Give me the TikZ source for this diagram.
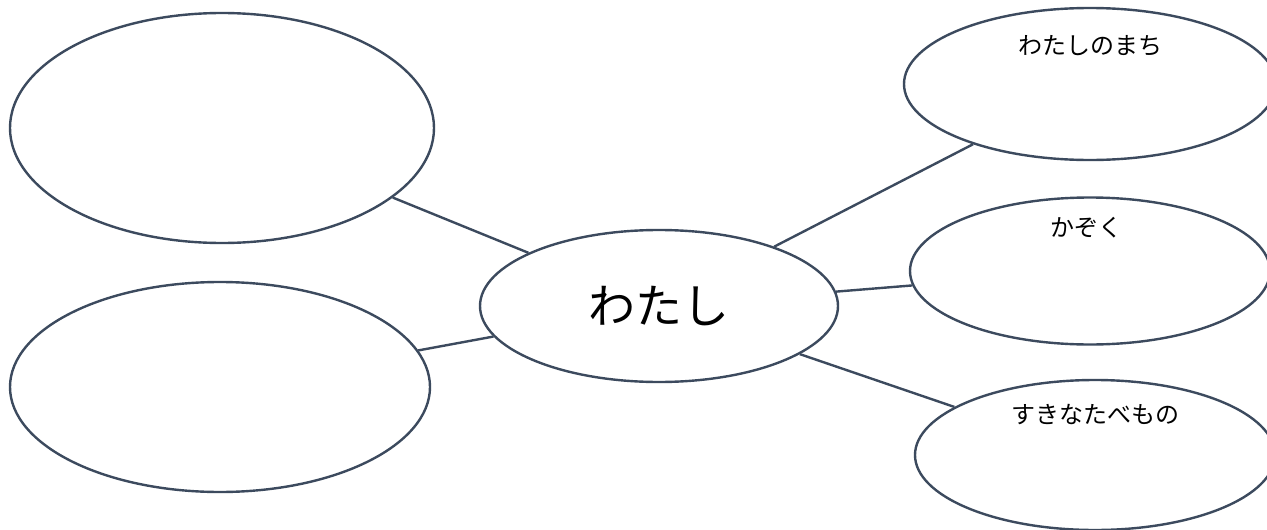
\documentclass[tikz,border=0pt]{standalone}
\usepackage{fontspec}
\newfontfamily\jp{Noto Sans CJK JP}
\usetikzlibrary{shapes.geometric}
\definecolor{edge}{HTML}{3C4A5E}
\tikzset{
  bubble/.style={ellipse, draw=edge, line width=2.4pt, fill=white, inner sep=0pt},
  link/.style={draw=edge, line width=2.4pt},
  lbl/.style={font=\jp\fontsize{24}{28}\selectfont, text=black, inner sep=0pt}
}
\begin{document}
\begin{tikzpicture}[x=1pt,y=-1pt]
\useasboundingbox (0,0) rectangle (1267,530);
\clip (0,0) rectangle (1267,530);
\fill[white] (0,0) rectangle (1267,530);
\node[bubble, minimum width=424pt, minimum height=230pt] (tl) at (222,128) {};
\node[bubble, minimum width=420pt, minimum height=210pt] (bl) at (220,387) {};
\node[bubble, minimum width=358pt, minimum height=152pt, font=\jp\fontsize{47}{50}\selectfont] (me) at (659,306) {わたし};
\node[bubble, minimum width=372pt, minimum height=152pt] (town) at (1090,84) {};
\node[bubble, minimum width=360pt, minimum height=147pt] (fam) at (1090,271) {};
\node[bubble, minimum width=360pt, minimum height=150pt] (food) at (1095,455) {};
\node[lbl] (townt) at (1090,46) {わたしのまち};
\node[lbl] (famt) at (1086,228) {かぞく};
\node[lbl] (foodt) at (1095,415) {すきなたべもの};
\draw[link] (tl) -- (me);
\draw[link] (bl) -- (me);
\draw[link] (me) -- (town);
\draw[link] (me) -- (fam);
\draw[link] (me) -- (food);
\end{tikzpicture}
\end{document}
